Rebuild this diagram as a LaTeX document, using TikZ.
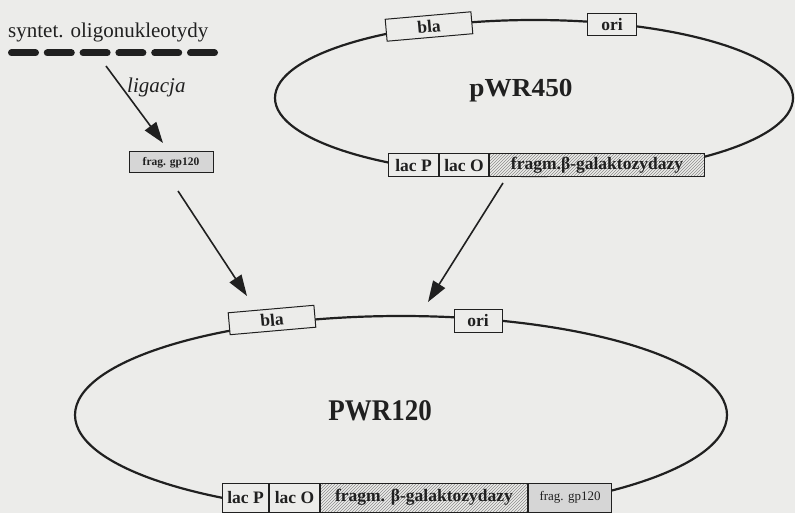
\documentclass[tikz,border=0pt]{standalone}
\usepackage{fontspec}
\setmainfont{Liberation Serif}
\usetikzlibrary{arrows.meta,patterns}
\definecolor{bg}{RGB}{236,236,234}
\definecolor{ink}{RGB}{32,32,32}
\begin{document}
\begin{tikzpicture}[x=1pt,y=-1pt,
  base/.style={draw=ink, line width=1pt, inner sep=0pt, text=ink,
    font=\fontsize{17.5}{20}\selectfont\bfseries},
  gene/.style={base, fill=bg},
  hatchbox/.style={base, preaction={fill=bg}, pattern=north east lines, pattern color=black!45},
  dotbox/.style={base, fill=black!16},
  plasmid/.style={draw=ink, line width=2.2pt},
  arr/.style={draw=ink, line width=1.6pt, -{Triangle[length=21pt,width=14pt]}},
  plain/.style={inner sep=0pt, text=ink}
]
\fill[bg] (0,0) rectangle (795,513);
\useasboundingbox (0,0) rectangle (795,513);

% oligonucleotides
\node[plain, anchor=base west, font=\fontsize{21}{24}\selectfont] (oligo) at (8,38) {syntet. oligonukleotydy};
\draw[ink, line width=7pt, line cap=round, dash pattern=on 24pt off 11.8pt] (11.5,53) -- (214.5,53);
\node[plain, anchor=base west, font=\fontsize{21}{24}\selectfont\itshape] (lig) at (127,93) {ligacja};
\node[dotbox, font=\fontsize{11.5}{13}\selectfont\bfseries, minimum width=84pt, minimum height=21pt] (fragA) at (171,162.5) {frag. gp120};

% pWR450
\draw[plasmid] (534,98) ellipse [x radius=259pt, y radius=78pt];
\node[plain, anchor=base, font=\fontsize{26}{30}\selectfont\bfseries] (p450) at (521,97) {\scalebox{1.05}[1]{pWR450}};
\node[gene, rotate=5, minimum width=86pt, minimum height=22pt] (bla1) at (429,26.5) {bla};
\node[gene, minimum width=49pt, minimum height=22pt] (ori1) at (612,25) {ori};
\node[gene, anchor=west, minimum width=50pt, minimum height=23pt] (lacP1) at (388,165.5) {lac P};
\node[gene, anchor=west, minimum width=49pt, minimum height=23pt] (lacO1) at (lacP1.east) {lac O};
\node[hatchbox, anchor=west, minimum width=215pt, minimum height=23pt] (frag1) at (lacO1.east) {fragm.β-galaktozydazy};

% PWR120
\draw[plasmid] (401,415) ellipse [x radius=326pt, y radius=99pt];
\node[plain, anchor=base, font=\fontsize{30}{34}\selectfont\bfseries] (p120) at (380,420) {\scalebox{0.9}[1]{PWR120}};
\node[gene, rotate=5, minimum width=86pt, minimum height=22pt] (bla2) at (272,320) {bla};
\node[gene, minimum width=48pt, minimum height=23pt] (ori2) at (478,320.5) {ori};
\node[gene, anchor=west, minimum width=46pt, minimum height=29pt] (lacP2) at (222,497.5) {lac P};
\node[gene, anchor=west, minimum width=50pt, minimum height=29pt] (lacO2) at (lacP2.east) {lac O};
\node[hatchbox, anchor=west, minimum width=207pt, minimum height=29pt] (frag2) at (lacO2.east) {fragm. β-galaktozydazy};
\node[dotbox, anchor=west, font=\fontsize{13}{15}\selectfont, minimum width=83pt, minimum height=29pt] (gp2) at (frag2.east) {frag. gp120};

% arrows
\coordinate (a1s) at (106,66);  \coordinate (a1e) at (163,143);
\coordinate (a2s) at (178,191); \coordinate (a2e) at (247,296);
\coordinate (a3s) at (503,183); \coordinate (a3e) at (428,302);
\draw[arr] (a1s) -- (a1e);
\draw[arr] (a2s) -- (a2e);
\draw[arr] (a3s) -- (a3e);
\end{tikzpicture}
\end{document}
